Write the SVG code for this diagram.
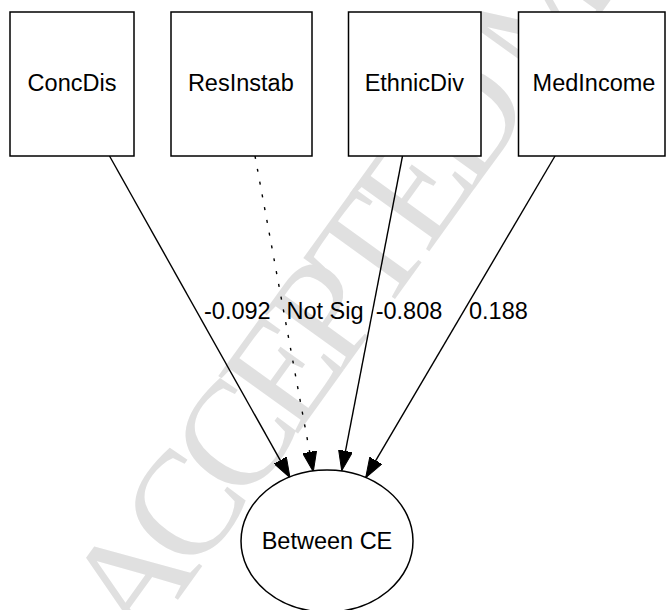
<svg xmlns="http://www.w3.org/2000/svg" width="666" height="610" viewBox="0 0 666 610">
  <style>
    .box { fill: #ffffff; stroke: #000000; stroke-width: 1.5; }
    .lbl { font-family: "Liberation Sans", Arial, Helvetica, sans-serif; font-size: 23.5px; fill: #000000; }
    .edge { stroke: #000000; stroke-width: 1.4; fill: none; marker-end: url(#arrow); }
    .dotted { stroke-dasharray: 3 10; }
    .wm { font-family: "Liberation Serif", "Times New Roman", serif; font-size: 150px; letter-spacing: -14px; fill: #e0e0e0; }
  </style>
  <defs>
    <marker id="arrow" markerUnits="userSpaceOnUse" markerWidth="20" markerHeight="14" refX="20" refY="7" orient="auto">
      <path d="M0,0 L20,7 L0,14 Z" fill="#000000" stroke="#000000" stroke-width="1"/>
    </marker>
  </defs>
  <rect x="0" y="0" width="666" height="610" fill="#ffffff"/>

  <g id="watermark">
    <text class="wm" x="139.6" y="653.1" transform="rotate(-54.2 139.6 653.1)">ACCEPTED MANUSCRIPT</text>
  </g>

  <g id="connectors">
    <line class="edge" x1="109.5" y1="156" x2="290" y2="477.7"/>
    <line class="edge dotted" x1="255" y1="156" x2="313.3" y2="471.7"/>
    <line class="edge" x1="402.5" y1="156" x2="341.7" y2="470.7"/>
    <line class="edge" x1="555" y1="156" x2="365.7" y2="477.7"/>
    <text class="lbl" x="204" y="319">-0.092</text>
    <text class="lbl" x="286.5" y="319">Not Sig</text>
    <text class="lbl" x="375.7" y="319">-0.808</text>
    <text class="lbl" x="469" y="319">0.188</text>
  </g>

  <g id="ConcDis">
    <rect class="box" x="10" y="12" width="124" height="144"/>
    <text class="lbl" x="72" y="90.5" text-anchor="middle">ConcDis</text>
  </g>
  <g id="ResInstab">
    <rect class="box" x="171" y="12" width="141" height="144"/>
    <text class="lbl" x="240.8" y="90.5" text-anchor="middle">ResInstab</text>
  </g>
  <g id="EthnicDiv">
    <rect class="box" x="348.5" y="12" width="132.5" height="144"/>
    <text class="lbl" x="414.3" y="90.5" text-anchor="middle">EthnicDiv</text>
  </g>
  <g id="MedIncome">
    <rect class="box" x="518.5" y="12" width="146.5" height="144"/>
    <text class="lbl" x="594" y="90.5" text-anchor="middle">MedIncome</text>
  </g>
  <g id="BetweenCE">
    <ellipse class="box" cx="327" cy="541" rx="86" ry="71"/>
    <text class="lbl" x="327" y="548.5" text-anchor="middle">Between CE</text>
  </g>
</svg>
